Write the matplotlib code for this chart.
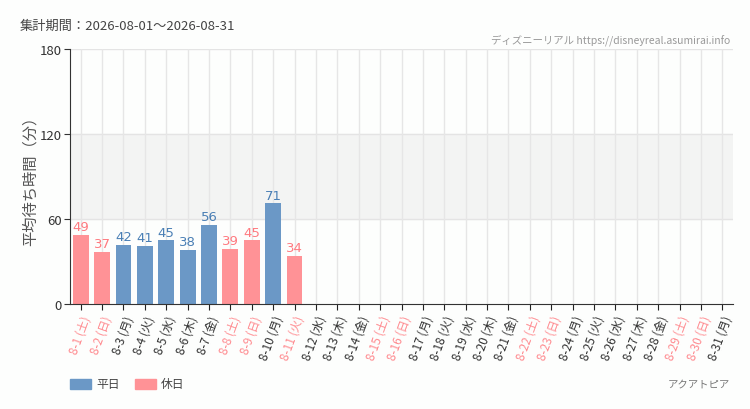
import matplotlib
matplotlib.use("Agg")
import matplotlib.pyplot as plt
import numpy as np

plt.rcParams['font.family'] = ['Noto Sans CJK JP', 'DejaVu Sans']

days = list(range(1, 32))
weekdays = ['土','日','月','火','水','木','金','土','日','月','火','水','木','金','土','日','月','火','水','木','金','土','日','月','火','水','木','金','土','日','月']
holiday_flags = [1,1,0,0,0,0,0,1,1,0,1,0,0,0,1,1,0,0,0,0,0,1,1,0,0,0,0,0,1,1,0]
values = [49,37,42,41,45,38,56,39,45,71,34]
labels = [f"8-{d} ({w})" for d, w in zip(days, weekdays)]

BLUE = '#6b98c6'
PINK = '#ff9296'
BLUE_T = '#4a7fb5'
PINK_T = '#ff7a80'
PINK_TICK = '#ff8a8f'

fig = plt.figure(figsize=(7.5, 4.1), dpi=100, facecolor='#fdfefd')
ax = fig.add_axes([70/750, 1-305/410, 663/750, 255/410])
ax.set_facecolor('#fdfefd')

x = np.arange(len(days))
ax.set_xlim(-0.5, len(days) - 0.5)
ax.set_ylim(0, 180)
ax.axhspan(60, 120, color='#f3f4f3', zorder=0)
for yv in [60, 120, 180]:
    ax.axhline(yv, color='#e4e4e4', lw=1, zorder=0.5)
for xi in x:
    ax.axvline(xi, color='#e6e6e6', lw=1, zorder=0.5)

for i, v in enumerate(values):
    c = PINK if holiday_flags[i] else BLUE
    tc = PINK_T if holiday_flags[i] else BLUE_T
    ax.bar(i, v, width=0.74, color=c, zorder=2)
    ax.text(i, v + 1.2, str(v), ha='center', va='bottom', color=tc,
            fontsize=9.5, family=['DejaVu Sans'], zorder=3)

ax.set_yticks([0, 60, 120, 180])
ax.tick_params(axis='y', length=4, color='#333333', labelsize=9.5, labelcolor='#333333', pad=2)
ax.set_xticks(x)
ax.set_xticklabels(labels, rotation=70, ha='right', rotation_mode='anchor', fontsize=8.5)
ax.tick_params(axis='x', length=4, color='#222222', pad=3)
for lab, h in zip(ax.get_xticklabels(), holiday_flags):
    lab.set_color(PINK_TICK if h else '#333333')

for s in ['top', 'right']:
    ax.spines[s].set_visible(False)
ax.spines['left'].set_color('#333333')
ax.spines['bottom'].set_color('#333333')

ax.set_ylabel('平均待ち時間（分）', fontsize=11, color='#555555', labelpad=1)

fig.text(20/750, 1-26/410, '集計期間：2026-08-01～2026-08-31', fontsize=9.5, color='#444444', va='center', ha='left')
fig.text(730/750, 1-40/410, 'ディズニーリアル https://disneyreal.asumirai.info', fontsize=7.5, color='#999999',
         va='center', ha='right')
fig.text(730/750, 1-385/410, 'アクアトピア', fontsize=7.5, color='#777777', va='center', ha='right')

fig.patches.append(plt.Rectangle((70/750, 1-390/410), 21/750, 10/410, transform=fig.transFigure, color=BLUE))
fig.text(96/750, 1-385/410, '平日', fontsize=8.5, color='#444444', va='center', ha='left')
fig.patches.append(plt.Rectangle((135/750, 1-390/410), 21/750, 10/410, transform=fig.transFigure, color=PINK))
fig.text(161/750, 1-385/410, '休日', fontsize=8.5, color='#444444', va='center', ha='left')

fig.savefig('out.png', dpi=100, facecolor=fig.get_facecolor())
